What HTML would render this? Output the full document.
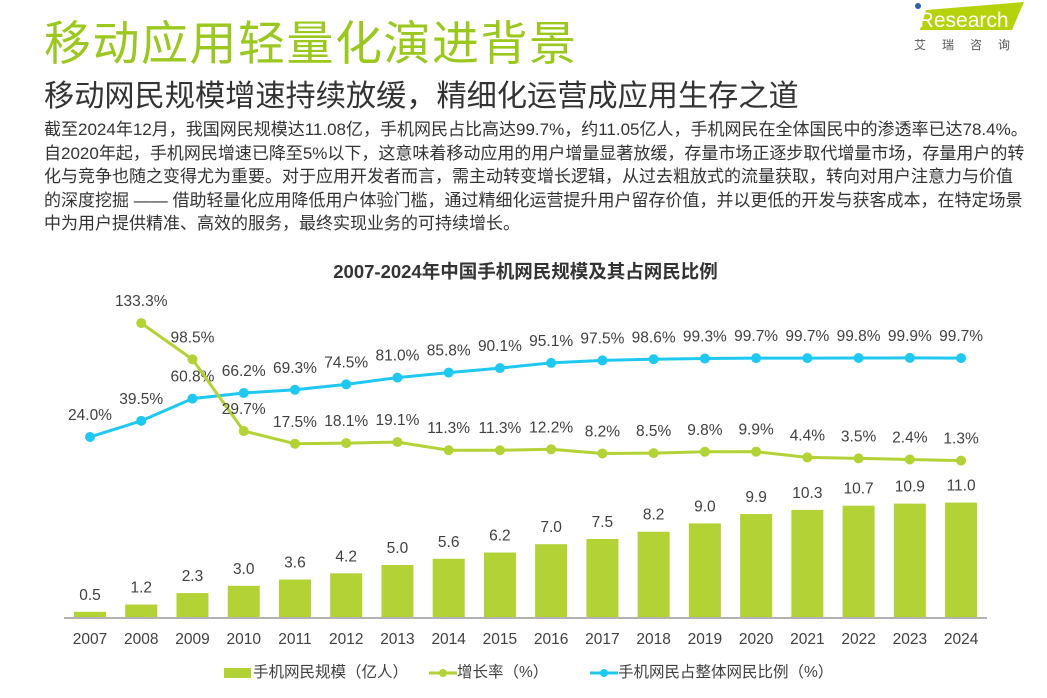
<!DOCTYPE html>
<html><head><meta charset="utf-8"><style>
body{margin:0;width:1047px;height:698px;background:#fff;overflow:hidden;position:relative;font-family:"Liberation Sans","Noto Sans CJK SC",sans-serif}
.t{position:absolute;white-space:nowrap}
</style></head><body>
<div class="t" style="left:44px;top:5px;font-size:47px;color:#9ac81e;letter-spacing:1.5px">移动应用轻量化演进背景</div>
<div style="position:absolute;left:910px;top:0px;width:137px;height:52px">
<svg width="137" height="52"><polygon points="16,10 114,2 102,30 10,30" fill="#b5d20a"/><circle cx="8" cy="6" r="3" fill="#2b5fb0"/><text x="4" y="27" font-size="21" fill="#fff" font-family="Liberation Sans">iResearch</text><text x="4" y="49" font-size="12" fill="#555" letter-spacing="16" font-family="Noto Sans CJK SC">艾瑞咨询</text></svg></div>
<div class="t" style="left:44px;top:71px;font-size:30.2px;color:#333">移动网民规模增速持续放缓，精细化运营成应用生存之道</div>
<div class="t" style="left:44px;top:118px;font-size:17px;line-height:23.6px;color:#333">截至2024年12月，我国网民规模达11.08亿，手机网民占比高达99.7%，约11.05亿人，手机网民在全体国民中的渗透率已达78.4%。<br>自2020年起，手机网民增速已降至5%以下，这意味着移动应用的用户增量显著放缓，存量市场正逐步取代增量市场，存量用户的转<br>化与竞争也随之变得尤为重要。对于应用开发者而言，需主动转变增长逻辑，从过去粗放式的流量获取，转向对用户注意力与价值<br>的深度挖掘 —— 借助轻量化应用降低用户体验门槛，通过精细化运营提升用户留存价值，并以更低的开发与获客成本，在特定场景<br>中为用户提供精准、高效的服务，最终实现业务的可持续增长。</div>
<div class="t" style="left:0;width:1051px;text-align:center;top:258px;font-size:18.5px;font-weight:bold;color:#333">2007-2024年中国手机网民规模及其占网民比例</div>
<svg id="c" width="1047" height="698" style="position:absolute;left:0;top:0"></svg>
<script>
const years=[2007,2008,2009,2010,2011,2012,2013,2014,2015,2016,2017,2018,2019,2020,2021,2022,2023,2024];
const users=[0.5,1.2,2.3,3.0,3.6,4.2,5.0,5.6,6.2,7.0,7.5,8.2,9.0,9.9,10.3,10.7,10.9,11.0];
const growth=[null,133.3,98.5,29.7,17.5,18.1,19.1,11.3,11.3,12.2,8.2,8.5,9.8,9.9,4.4,3.5,2.4,1.3];
const share=[24.0,39.5,60.8,66.2,69.3,74.5,81.0,85.8,90.1,95.1,97.5,98.6,99.3,99.7,99.7,99.8,99.9,99.7];
const NS='http://www.w3.org/2000/svg',svg=document.getElementById('c');
const G='#b2d235',B='#1ec8f0';
const x=i=>90+i*51.24, yb=v=>617-v*10.4, yl=v=>462-v*1.042;
function mk(t,a,p){const e=document.createElementNS(NS,t);for(const k in a)e.setAttribute(k,a[k]);(p||svg).appendChild(e);return e;}
function tx(s,X,Y,n){const e=mk('text',{x:X,y:Y,'text-anchor':'middle','font-size':15.5,fill:'#404040','font-family':'Liberation Sans, sans-serif'});e.textContent=s;


return e;}
users.forEach((v,i)=>{const r=mk('rect',{x:x(i)-16,y:yb(v),width:32,height:617-yb(v),fill:G});


tx(v.toFixed(1),x(i),yb(v)-12,'bar-label');
tx(years[i],x(i),644,'x-tick-label');});
const ax=mk('line',{x1:64,x2:987,y1:618,y2:618,stroke:'#999','stroke-width':1.5});


function series(arr,col,name){let pts=[];arr.forEach((v,i)=>{if(v!=null)pts.push([x(i),yl(v)]);});
const p=mk('polyline',{points:pts.map(q=>q.join(',')).join(' '),fill:'none',stroke:col,'stroke-width':3});


arr.forEach((v,i)=>{if(v==null)return;const c=mk('circle',{cx:x(i),cy:yl(v),r:5,fill:col});


tx(v.toFixed(1)+'%',x(i),yl(v)-17,name+'-label');});}
series(share,B,'share');series(growth,G,'growth');
</script>
<div style="position:absolute;left:224px;top:660px;height:22px;font-size:15.5px;color:#404040">
<div class="t" style="left:0;top:0"><span style="display:inline-block;width:27px;height:10px;background:#b2d235;vertical-align:middle;margin-right:2px"></span>手机网民规模（亿人）</div>
<div class="t" style="left:205px;top:0"><svg width="28" height="10" style="vertical-align:middle"><line x1="0" y1="5" x2="28" y2="5" stroke="#b2d235" stroke-width="3"/><circle cx="14" cy="5" r="4" fill="#b2d235"/></svg>增长率（%）</div>
<div class="t" style="left:366px;top:0"><svg width="28" height="10" style="vertical-align:middle"><line x1="0" y1="5" x2="28" y2="5" stroke="#1ec8f0" stroke-width="3"/><circle cx="14" cy="5" r="4" fill="#1ec8f0"/></svg>手机网民占整体网民比例（%）</div>
</div>
</body></html>
